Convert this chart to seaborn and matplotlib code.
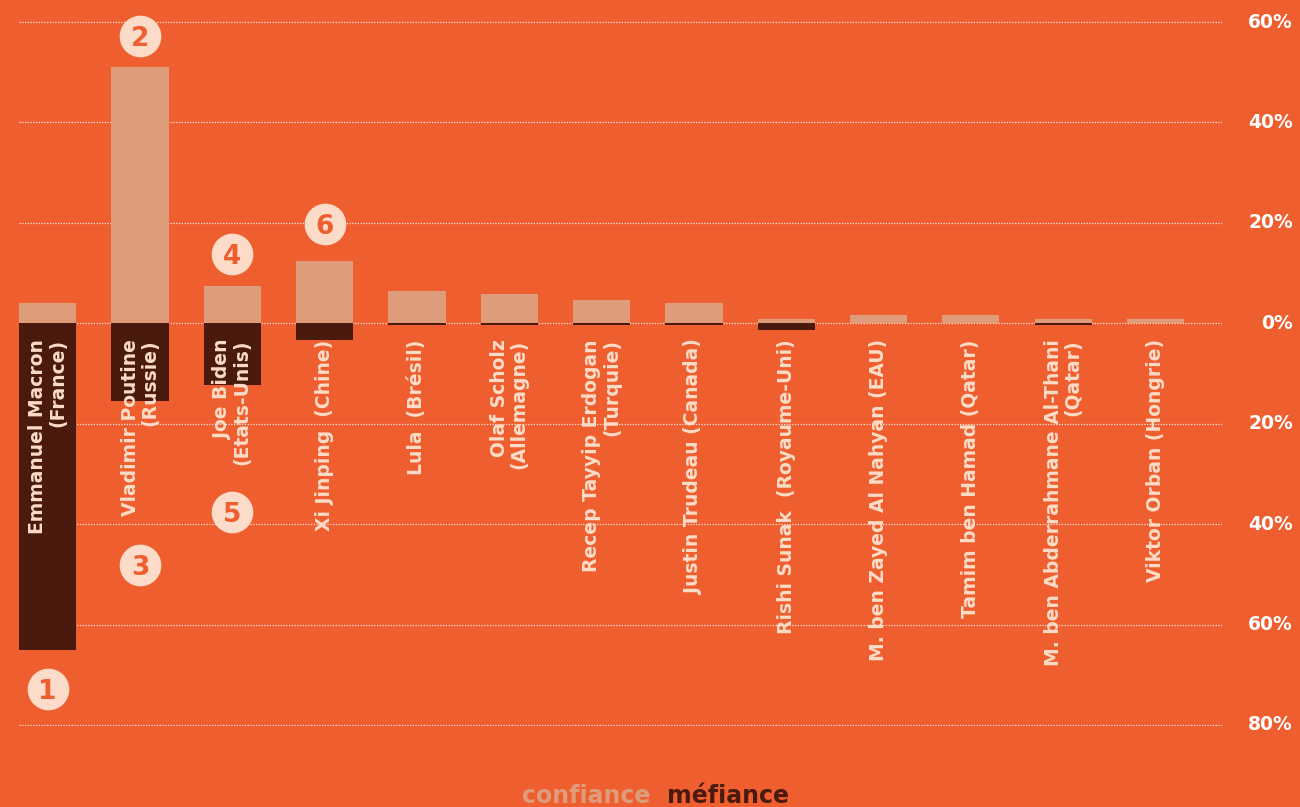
import matplotlib
matplotlib.use("Agg")
import matplotlib.pyplot as plt
import matplotlib.transforms as mtransforms
import seaborn as sns
import pandas as pd

# Leaders and their country
leaders = [
    "Emmanuel Macron\n(France)",
    "Vladimir Poutine\n(Russie)",
    "Joe Biden\n(Etats-Unis)",
    "Xi Jinping  (Chine)",
    "Lula  (Brésil)",
    "Olaf Scholz\n(Allemagne)",
    "Recep Tayyip Erdogan\n(Turquie)",
    "Justin Trudeau (Canada)",
    "Rishi Sunak  (Royaume-Uni)",
    "M. ben Zayed Al Nahyan (EAU)",
    "Tamim ben Hamad (Qatar)",
    "M. ben Abderrahmane Al-Thani\n(Qatar)",
    "Viktor Orban (Hongrie)",
]
# Share of respondents (%)
confiance = [4, 51, 7.5, 12.4, 6.4, 5.8, 4.6, 4, 0.8, 1.6, 1.6, 0.8, 0.8]
mefiance = [65, 15.4, 12.2, 3.4, 0.4, 0.4, 0.4, 0.4, 1.4, 0, 0, 0.4, 0]

# Ranking badges: (leader index, rank, vertical position in %)
badge_idx = [0, 1, 1, 2, 2, 3]
badge_rank = ["1", "2", "3", "4", "5", "6"]
badge_y = [-72.9, 57.2, -48.2, 13.7, -37.5, 19.7]

yticks = [60, 40, 20, 0, -20, -40, -60, -80]
ytick_labels = ["60%", "40%", "20%", "0%", "20%", "40%", "60%", "80%"]

BG = "#EF5E2E"
LIGHT = "#DF9C7A"
DARK = "#4A1A0E"
CREAM = "#FCDCC8"

sns.set_theme(style="white")
plt.rcParams["font.family"] = ["DejaVu Sans"]

df = pd.DataFrame({"leader": leaders, "confiance": confiance,
                   "mefiance": [-v for v in mefiance]})

fig = plt.figure(figsize=(13, 8.07), dpi=100, facecolor=BG)
ax = fig.add_axes([19 / 1300, 1 - 726 / 807, (1222 - 19) / 1300, (726 - 21) / 807])
ax.set_facecolor(BG)

sns.barplot(data=df, x="leader", y="confiance", color=LIGHT, width=0.62,
            saturation=1, errorbar=None, ax=ax, zorder=2, linewidth=0)
sns.barplot(data=df, x="leader", y="mefiance", color=DARK, width=0.62,
            saturation=1, errorbar=None, ax=ax, zorder=2, linewidth=0)

ax.set_xlim(-0.31, 12.72)
ax.set_ylim(-80.2, 60.2)
ax.set_xlabel("")
ax.set_ylabel("")
ax.set_xticks([])
ax.set_yticks([])
for s in ax.spines.values():
    s.set_visible(False)

# Dotted gridlines and right-hand percentage scale
tick_tr = mtransforms.blended_transform_factory(fig.transFigure, ax.transData)
for y, lab in zip(yticks, ytick_labels):
    ax.axhline(y, color="white", lw=0.9, ls=(0, (1, 1.2)), alpha=0.85, zorder=1)
    ax.text(1293 / 1300, y, lab, transform=tick_tr, ha="right", va="center",
            color="white", fontsize=13.5, fontweight="bold")

# Leader names, rotated, under the zero line
for i, name in enumerate(leaders):
    ax.text(i, -3.2, name, rotation=90, ha="center", va="top",
            multialignment="right", color=CREAM, fontsize=13.5,
            fontweight="bold", linespacing=1.05, zorder=4)

# Ranking badges
ax.scatter(badge_idx, badge_y, s=900, color=CREAM, zorder=5, linewidths=0,
           clip_on=False)
for x, y, r in zip(badge_idx, badge_y, badge_rank):
    ax.text(x, y, r, ha="center", va="center_baseline", color=BG,
            fontsize=19, fontweight="bold", zorder=6)

# Legend
fig.text(650 / 1300, 1 - 796 / 807, "confiance", ha="right", va="center",
         color=LIGHT, fontsize=17, fontweight="bold")
fig.text(667 / 1300, 1 - 796 / 807, "méfiance", ha="left", va="center",
         color=DARK, fontsize=17, fontweight="bold")

fig.savefig("out.png", dpi=100, facecolor=BG)
